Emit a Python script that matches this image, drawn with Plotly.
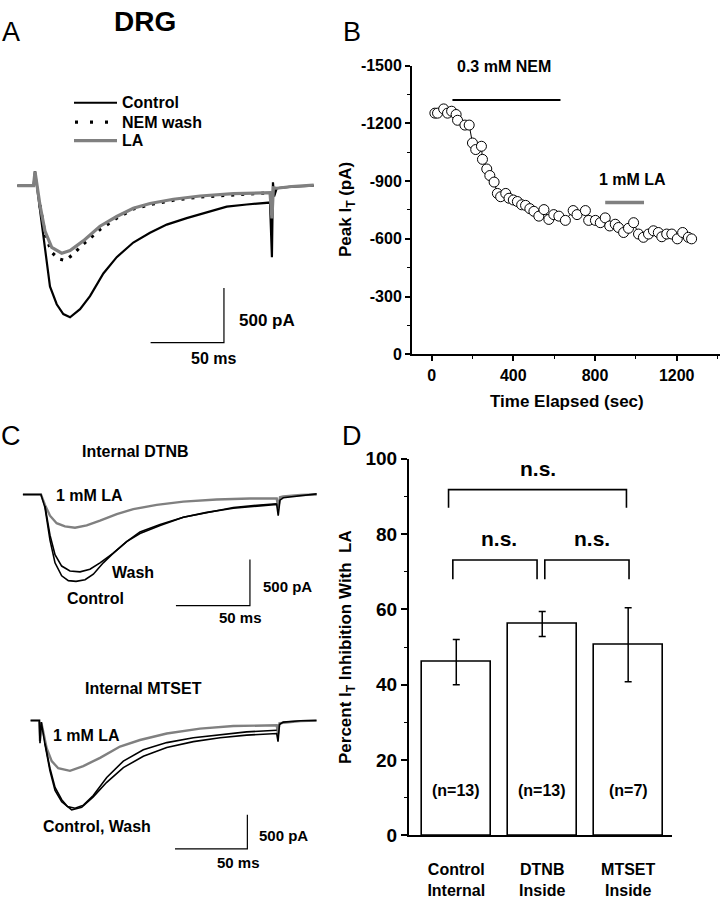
import plotly.graph_objects as go

W, H = 720, 899
FONT = "Liberation Sans, Arial, sans-serif"
GRAY = "#808080"

# ---------------- DATA ----------------
# Panel A: DRG T-current traces (time ms, current pA)
a_ctrl_t = [-12, -1, 0, 1.5, 5.7, 10.2, 14.8, 19.3, 23.9, 30.7, 37.5, 46.6, 55.7, 67, 78.4, 89.8,
            103.4, 117, 130.7, 144.3, 160.2, 161.5, 162.2, 163, 164.8, 175, 190]
a_ctrl_i = [0, 0, 130, -30, -476, -923, -1086, -1176, -1205, -1131, -1012, -804, -655, -521, -432, -357,
            -298, -244, -193, -173, -155, -655, 30, -100, -24, -10, 0]
a_nem_t = [3.4, 6.8, 11.4, 15.9, 20.5, 25, 32.9, 44.3, 55.7, 67, 78.4, 94.3, 112.5, 135.2, 160.2]
a_nem_i = [-179, -446, -610, -670, -685, -640, -536, -402, -298, -214, -173, -134, -104, -83, -65]
a_la_t = [-12, -1, 0, 1.5, 3.4, 6.8, 11.4, 18.2, 23.9, 32.9, 44.3, 55.7, 67, 78.4, 94.3, 112.5,
          135.2, 160.2, 161.5, 162.5, 164.8, 175, 190]
a_la_i = [0, 0, 130, 0, -179, -417, -565, -619, -595, -506, -372, -283, -208, -164, -125, -95,
          -74, -65, -300, -20, -24, -8, 5]
a_legend = ["Control", "NEM wash", "LA"]

# Panel B: peak I_T over time
b_time = [16, 29, 59, 78, 98, 120, 127, 163, 184, 200, 216, 244, 249, 270, 285, 306, 322, 338, 363,
          379, 400, 420, 441, 460, 481, 501, 525, 550, 574, 598, 623, 655, 693, 712, 753, 769, 802,
          826, 850, 872, 899, 915, 940, 964, 989, 1013, 1037, 1062, 1086, 1110, 1127, 1151, 1176,
          1203, 1229, 1257, 1273]
b_peak = [-1253, -1253, -1275, -1253, -1263, -1246, -1216, -1191, -1191, -1098, -1064, -1081, -1013,
          -963, -929, -895, -836, -819, -836, -811, -802, -794, -777, -774, -757, -743, -718, -752,
          -701, -726, -718, -696, -747, -726, -747, -696, -696, -684, -709, -667, -676, -659, -633,
          -655, -684, -625, -608, -625, -642, -633, -611, -625, -625, -600, -633, -608, -600]
b_nem_bar = [102, 631]
b_nem_level = -1321
b_la_bar = [850, 1040]
b_la_level = -789

# Panel C top: internal DTNB
c1_ctrl_t = [-12.7, -0.5, 2.2, 5.6, 9, 13.5, 18, 23.2, 29.3, 34.9, 41.6, 48.4, 57.4, 66.4, 80, 95.7,
             111.5, 129.5, 147.5, 158.8, 159.8, 161, 163.2, 175, 185.8]
c1_ctrl_i = [0, 0, -141, -493, -739, -880, -932, -940, -922, -862, -739, -634, -510, -422, -334, -246,
             -193, -148, -123, -106, -229, -60, -35, -10, 7]
c1_wash_t = [2.2, 5.6, 9, 13.5, 19.1, 25.9, 32.6, 39.4, 48.4, 57.4, 66.4, 80, 95.7, 111.5, 129.5,
             147.5, 158.8]
c1_wash_i = [-123, -440, -651, -774, -827, -837, -809, -739, -634, -510, -405, -323, -246, -193, -141,
             -113, -99]
c1_la_t = [-12.7, -0.5, 2.2, 5.6, 10.1, 15.7, 22.5, 30.4, 39.4, 50.7, 61.9, 77.7, 95.7, 118.2, 140.7,
           158.8, 159.8, 161, 163.2, 175, 185.8]
c1_la_i = [0, 0, -112, -229, -310, -345, -359, -334, -282, -211, -158, -112, -77, -53, -42,
           -42, -150, -30, -20, -5, 0]

# Panel C bottom: internal MTSET
c2_ctrl_t = [-6.5, -0.5, 0, 0.9, 3.5, 6.9, 10.4, 15, 21.9, 28.8, 36.8, 46.1, 57.6, 71.4, 87.6, 106,
             124.4, 142.8, 163.6, 164.5, 165.5, 168.1, 180, 191.1]
c2_ctrl_i = [0, 0, -333, -24, -357, -738, -1024, -1191, -1310, -1272, -1119, -905, -691, -524, -395,
             -310, -252, -214, -191, -310, -60, -24, -5, 0]
c2_wash_t = [3.5, 6.9, 10.4, 15, 19, 24.2, 30, 36.8, 46.1, 57.6, 71.4, 87.6, 106, 124.4, 142.8, 163.6]
c2_wash_i = [-340, -700, -980, -1160, -1260, -1286, -1240, -1100, -834, -595, -429, -324, -252, -205,
             -167, -143]
c2_la_t = [-6.5, -0.5, 0, 0.9, 4.6, 8.1, 12.6, 20.7, 29.9, 41.5, 55.3, 69.1, 87.6, 110.6, 133.6, 163.6,
           164.5, 165.5, 168.1, 180, 191.1]
c2_la_i = [0, 0, -300, -30, -405, -595, -700, -738, -667, -548, -381, -286, -191, -119, -81, -71,
           -200, -40, -33, -10, 0]

# Panel D: percent inhibition with LA
d_groups = ["Control<br>Internal", "DTNB<br>Inside", "MTSET<br>Inside"]
d_mean = [46.0, 56.1, 50.6]
d_err = [6.0, 3.3, 9.8]
d_n = ["(n=13)", "(n=13)", "(n=7)"]
d_brackets = [(-0.09, 1.98, 91.8, 87.0), (-0.04, 0.94, 73.1, 68.0), (1.03, 2.01, 73.1, 68.0)]
d_ns_pos = [(0.95, 97.4), (0.5, 78.8), (1.58, 78.8)]

# scale bars: (corner time, corner current); bars are 50 ms and 500 pA
sb_a = (128.8, -1437.5)
sb_c1 = (140.7, -1203)
sb_c2 = (143.3, -1881)
SB_T, SB_I = 50, 500

# ---------------- HELPERS ----------------
def xaxis_cal(p0, p1, origin, s):
    return dict(domain=[p0 / W, p1 / W], range=[(p0 - origin) / s, (p1 - origin) / s],
                visible=False, fixedrange=True)

def yaxis_cal(q0, q1, origin, s):
    return dict(domain=[1 - q1 / H, 1 - q0 / H], range=[(origin - q1) / s, (origin - q0) / s],
                visible=False, fixedrange=True)

def P(x, y):
    return x / W, 1 - y / H

fig = go.Figure()

def tr(x, y, ax, color="black", width=1.6, dash=None):
    fig.add_trace(go.Scatter(x=x, y=y, mode="lines", xaxis="x" + ax, yaxis="y" + ax,
                             line=dict(color=color, width=width, dash=dash),
                             showlegend=False, hoverinfo="skip"))

def scalebar(sb, ax):
    t0, i0 = sb
    tr([t0 - SB_T, t0, t0], [i0, i0, i0 + SB_I], ax, width=1.2)

# Panel A
tr(a_ctrl_t, a_ctrl_i, "", "black", 2.2)
tr(a_nem_t, a_nem_i, "", "black", 3.2, "3px,7px")
tr(a_la_t, a_la_i, "", GRAY, 3.2)
scalebar(sb_a, "")

# Panel B
fig.add_trace(go.Scatter(x=b_nem_bar, y=[b_nem_level] * 2, mode="lines", xaxis="x2", yaxis="y2",
                         line=dict(color="black", width=2), showlegend=False))
fig.add_trace(go.Scatter(x=b_la_bar, y=[b_la_level] * 2, mode="lines", xaxis="x2", yaxis="y2",
                         line=dict(color=GRAY, width=3.5), showlegend=False))
fig.add_trace(go.Scatter(x=b_time, y=b_peak, mode="lines+markers", xaxis="x2", yaxis="y2",
                         line=dict(color="black", width=1),
                         marker=dict(symbol="circle", size=10, color="white",
                                     line=dict(color="black", width=1)),
                         showlegend=False))

# Panel C top
tr(c1_la_t, c1_la_i, "3", GRAY, 2.4)
tr(c1_wash_t, c1_wash_i, "3", "black", 1.6)
tr(c1_ctrl_t, c1_ctrl_i, "3", "black", 1.6)
scalebar(sb_c1, "3")

# Panel C bottom
tr(c2_la_t, c2_la_i, "4", GRAY, 2.4)
tr(c2_wash_t, c2_wash_i, "4", "black", 1.6)
tr(c2_ctrl_t, c2_ctrl_i, "4", "black", 1.6)
scalebar(sb_c2, "4")

# Panel D
fig.add_trace(go.Bar(x=[0, 1, 2], y=d_mean, width=0.8, xaxis="x5", yaxis="y5",
                     marker=dict(color="white", line=dict(color="black", width=1.6)),
                     error_y=dict(type="data", array=d_err, color="black", thickness=1.5, width=3.5),
                     showlegend=False))
for x0, x1, top, bot in d_brackets:
    fig.add_trace(go.Scatter(x=[x0, x0, x1, x1], y=[bot, top, top, bot], mode="lines",
                             xaxis="x5", yaxis="y5", line=dict(color="black", width=1.6),
                             showlegend=False))

# ---------------- LAYOUT ----------------
tickfont = dict(family=FONT, size=16, color="black", weight="bold")
minor_style = dict(ticks="outside", ticklen=3, tickwidth=1.2, tickcolor="black", tickmode="linear", tick0=0)
layout = dict(
    width=W, height=H, margin=dict(l=0, r=0, t=0, b=0),
    paper_bgcolor="white", plot_bgcolor="rgba(0,0,0,0)",
    font=dict(family=FONT, color="black"),
    showlegend=False, bargap=0,
    xaxis=xaxis_cal(0, 345, 35, 1.467), yaxis=yaxis_cal(60, 400, 180, 0.112),
    xaxis3=xaxis_cal(0, 345, 41.7, 1.48), yaxis3=yaxis_cal(470, 650, 496.7, 0.0947),
    xaxis4=xaxis_cal(0, 345, 40, 1.447), yaxis4=yaxis_cal(700, 899, 728.3, 0.07),
    xaxis2=dict(domain=[412 / W, 720 / W], range=[-96, 1412], anchor="y2",
                showline=True, linecolor="black", linewidth=2, ticks="outside", ticklen=5,
                tickwidth=1.5, tickcolor="black", tickmode="linear", tick0=0, dtick=400,
                minor=dict(minor_style, dtick=200),
                showgrid=False, zeroline=False, tickfont=tickfont, fixedrange=True),
    yaxis2=dict(domain=[1 - 353 / H, 1 - 57 / H], range=[0, -1500], anchor="x2",
                showline=True, linecolor="black", linewidth=2, ticks="outside", ticklen=5,
                tickwidth=1.5, tickcolor="black", tickmode="array",
                tickvals=[0, -300, -600, -900, -1200, -1500],
                ticktext=["0", "-300", "-600", "-900", "-1200", "-1500"],
                minor=dict(minor_style, dtick=150),
                showgrid=False, zeroline=False, tickfont=tickfont, fixedrange=True),
    xaxis5=dict(domain=[409 / W, 672 / W], range=[-0.55, 2.51], anchor="y5",
                showline=True, linecolor="black", linewidth=2, ticks="",
                tickmode="array", tickvals=[0, 1, 2], ticktext=d_groups,
                ticklabelstandoff=19,
                showgrid=False, zeroline=False,
                tickfont=dict(family=FONT, size=16, color="black", weight="bold"),
                fixedrange=True),
    yaxis5=dict(domain=[1 - 846 / H, 1 - 460 / H], range=[0, 100], anchor="x5",
                showline=True, linecolor="black", linewidth=2, ticks="outside", ticklen=6,
                tickwidth=1.5, tickcolor="black", tickmode="linear", tick0=0, dtick=20,
                minor=dict(minor_style, dtick=10),
                showgrid=False, zeroline=False,
                tickfont=dict(family=FONT, size=19, color="black", weight="bold"),
                fixedrange=True),
)

ann = []
shapes = []

def A(x, y, text, size=16, bold=True, angle=0, xanchor="center"):
    px, py = P(x, y)
    ann.append(dict(x=px, y=py, xref="paper", yref="paper", text=text, showarrow=False,
                    textangle=angle, xanchor=xanchor, yanchor="middle",
                    font=dict(family=FONT, size=size, color="black",
                              weight="bold" if bold else "normal")))

def AD(x, y, ax, text, size=16):
    ann.append(dict(x=x, y=y, xref="x" + ax, yref="y" + ax, text=text, showarrow=False,
                    xanchor="center", yanchor="middle",
                    font=dict(family=FONT, size=size, color="black", weight="bold")))

def seg(x0, x1, y, color, width, dash=None):
    p0 = P(x0, y)
    p1 = P(x1, y)
    shapes.append(dict(type="line", xref="paper", yref="paper", x0=p0[0], y0=p0[1],
                       x1=p1[0], y1=p1[1], line=dict(color=color, width=width, dash=dash)))

A(145, 12, "DRG", 28)
A(11, 23, "A", 27, False)
A(352, 23, "B", 27, False)
A(11, 437, "C", 27, False)
A(352, 437, "D", 27, False)

# A legend (drawn manually)
seg(74, 117, 95, "black", 2)
seg(75, 117, 115, "black", 3.2, "3px,12px")
seg(74, 117, 134, GRAY, 3.2)
for label, y in zip(a_legend, [95, 115, 134]):
    A(120, y, label, 16, True, 0, "left")

# A
A(267, 318, "500 pA", 17)
A(213, 357, "50 ms", 16)
# B
AD(354, -1493, "2", "0.3 mM NEM", 16)
AD(985, -907, "2", "1 mM LA", 16)
A(347, 205, "Peak I<sub>T</sub> (pA)", 17, True, -90)
A(567, 401, "Time Elapsed (sec)", 17)
# C top
A(135, 453, "Internal DTNB", 16)
A(89, 498, "1 mM LA", 16)
A(133, 577, "Wash", 16)
A(95, 603, "Control", 16)
A(287, 591, "500 pA", 15)
A(240, 623, "50 ms", 15)
# C bottom
A(143, 696, "Internal MTSET", 16)
A(86, 744, "1 mM LA", 16)
A(97, 837, "Control, Wash", 16)
A(283, 846, "500 pA", 15)
A(238, 874, "50 ms", 15)
# D
A(347, 653, "Percent I<sub>T</sub> Inhibition With  LA", 17, True, -90)
for (x, y) in d_ns_pos:
    AD(x, y, "5", "n.s.", 21)
for i, t in enumerate(d_n):
    AD(i, 12, "5", t, 16)

layout["annotations"] = ann
layout["shapes"] = shapes
fig.update_layout(**layout)
fig.write_html("out.html", config={"displayModeBar": False},
               post_script="document.body.style.margin='0px';")
